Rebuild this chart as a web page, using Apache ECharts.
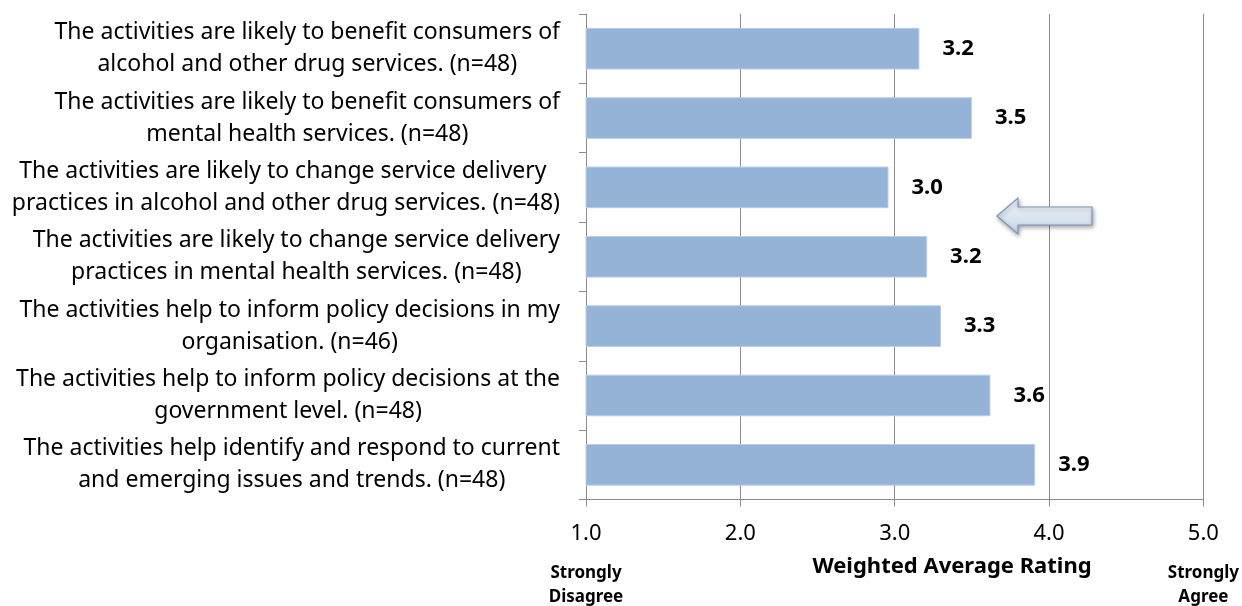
<!DOCTYPE html>
<html>
<head>
<meta charset="utf-8">
<script src="https://cdn.jsdelivr.net/npm/echarts@6/dist/echarts.min.js"></script>
<style>
  html, body { margin: 0; padding: 0; background: #fff; }
  #chart { width: 1242px; height: 606px; }
</style>
</head>
<body>
<div id="chart"></div>
<script>
// Survey statements, two display lines each (top to bottom)
const statements = [
  ['The activities are likely to benefit consumers of', 'alcohol and other drug services. (n=48)'],
  ['The activities are likely to benefit consumers of', 'mental health services. (n=48)'],
  ['The activities are likely to change service delivery ', 'practices in alcohol and other drug services. (n=48)'],
  ['The activities are likely to change service delivery', 'practices in mental health services. (n=48)'],
  ['The activities help to inform policy decisions in my', 'organisation. (n=46)'],
  ['The activities help to inform policy decisions at the', 'government level. (n=48)'],
  ['The activities help identify and respond to current', 'and emerging issues and trends. (n=48)']
];
// Weighted average rating per statement
const ratings = [3.16, 3.50, 2.96, 3.21, 3.30, 3.62, 3.91];
// Rating scale ticks and end-point descriptions
const scaleMin = 1, scaleMax = 5, scaleStep = 1;
const scaleEnds = { 1: ['Strongly', 'Disagree'], 5: ['Strongly', 'Agree'] };
const axisTitle = 'Weighted Average Rating';

const categories = statements.map(s => s.join('\n'));
const FONT = '"Noto Sans", "Open Sans", sans-serif';
const GRID_C = '#8c8c8c';

const chart = echarts.init(document.getElementById('chart'), null, { renderer: 'canvas' });

chart.setOption({
  animation: false,
  backgroundColor: '#ffffff',
  grid: { left: 586, right: 38, top: 14, bottom: 106, containLabel: false },
  xAxis: {
    type: 'value',
    min: scaleMin, max: scaleMax, interval: scaleStep,
    axisLine: { show: true, lineStyle: { color: GRID_C, width: 1 } },
    axisTick: { show: true, length: 7, lineStyle: { color: GRID_C } },
    splitLine: { show: true, lineStyle: { color: GRID_C, width: 1 } },
    axisLabel: {
      margin: 6,
      fontFamily: FONT,
      color: '#000',
      formatter: function (v) {
        const head = '{n|' + v.toFixed(1) + '}';
        const ends = scaleEnds[v];
        return ends ? head + '\n' + ends.map(t => '{s|' + t + '}').join('\n') : head;
      },
      rich: {
        n: { fontSize: 22, fontFamily: FONT, color: '#000', lineHeight: 56 },
        s: { fontSize: 17, fontWeight: 'bold', fontFamily: FONT, color: '#000', lineHeight: 24, align: 'center' }
      }
    }
  },
  yAxis: {
    type: 'category',
    inverse: true,
    data: categories,
    axisLine: { show: true, lineStyle: { color: GRID_C, width: 1 } },
    axisTick: { show: true, length: 7, lineStyle: { color: GRID_C } },
    axisLabel: {
      margin: 26,
      align: 'right',
      formatter: function (val) {
        return val.split('\n').map(l => '{c|' + l + '}').join('\n');
      },
      rich: {
        c: { align: 'center', fontSize: 23, fontFamily: FONT, color: '#000', lineHeight: 32 }
      }
    }
  },
  series: [{
    type: 'bar',
    data: ratings,
    barWidth: '60%',
    itemStyle: { color: '#95b3d7', borderColor: '#b9cde6', borderWidth: 1 },
    label: {
      show: true,
      position: 'right',
      distance: 23,
      fontFamily: FONT,
      fontSize: 22,
      fontWeight: 'bold',
      color: '#000',
      formatter: p => p.value.toFixed(1)
    }
  }],
  graphic: [
    {
      type: 'text',
      x: 952, y: 567,
      style: {
        text: axisTitle,
        align: 'center',
        verticalAlign: 'middle',
        fontSize: 22, fontWeight: 'bold', fontFamily: FONT, fill: '#000'
      }
    },
    {
      // call-out arrow pointing back toward the statements
      type: 'polygon',
      z: 10,
      shape: {
        points: [[997, 216], [1018, 198], [1018, 207], [1092, 207], [1092, 225], [1018, 225], [1018, 234]]
      },
      style: {
        fill: new echarts.graphic.LinearGradient(0, 0, 0, 1, [
          { offset: 0, color: '#f3f6fb' },
          { offset: 1, color: '#c8d5e8' }
        ]),
        stroke: '#7d96b8',
        lineWidth: 1.2,
        shadowBlur: 4,
        shadowOffsetX: 1,
        shadowOffsetY: 2,
        shadowColor: 'rgba(0,0,0,0.35)'
      }
    }
  ]
});
</script>
</body>
</html>
